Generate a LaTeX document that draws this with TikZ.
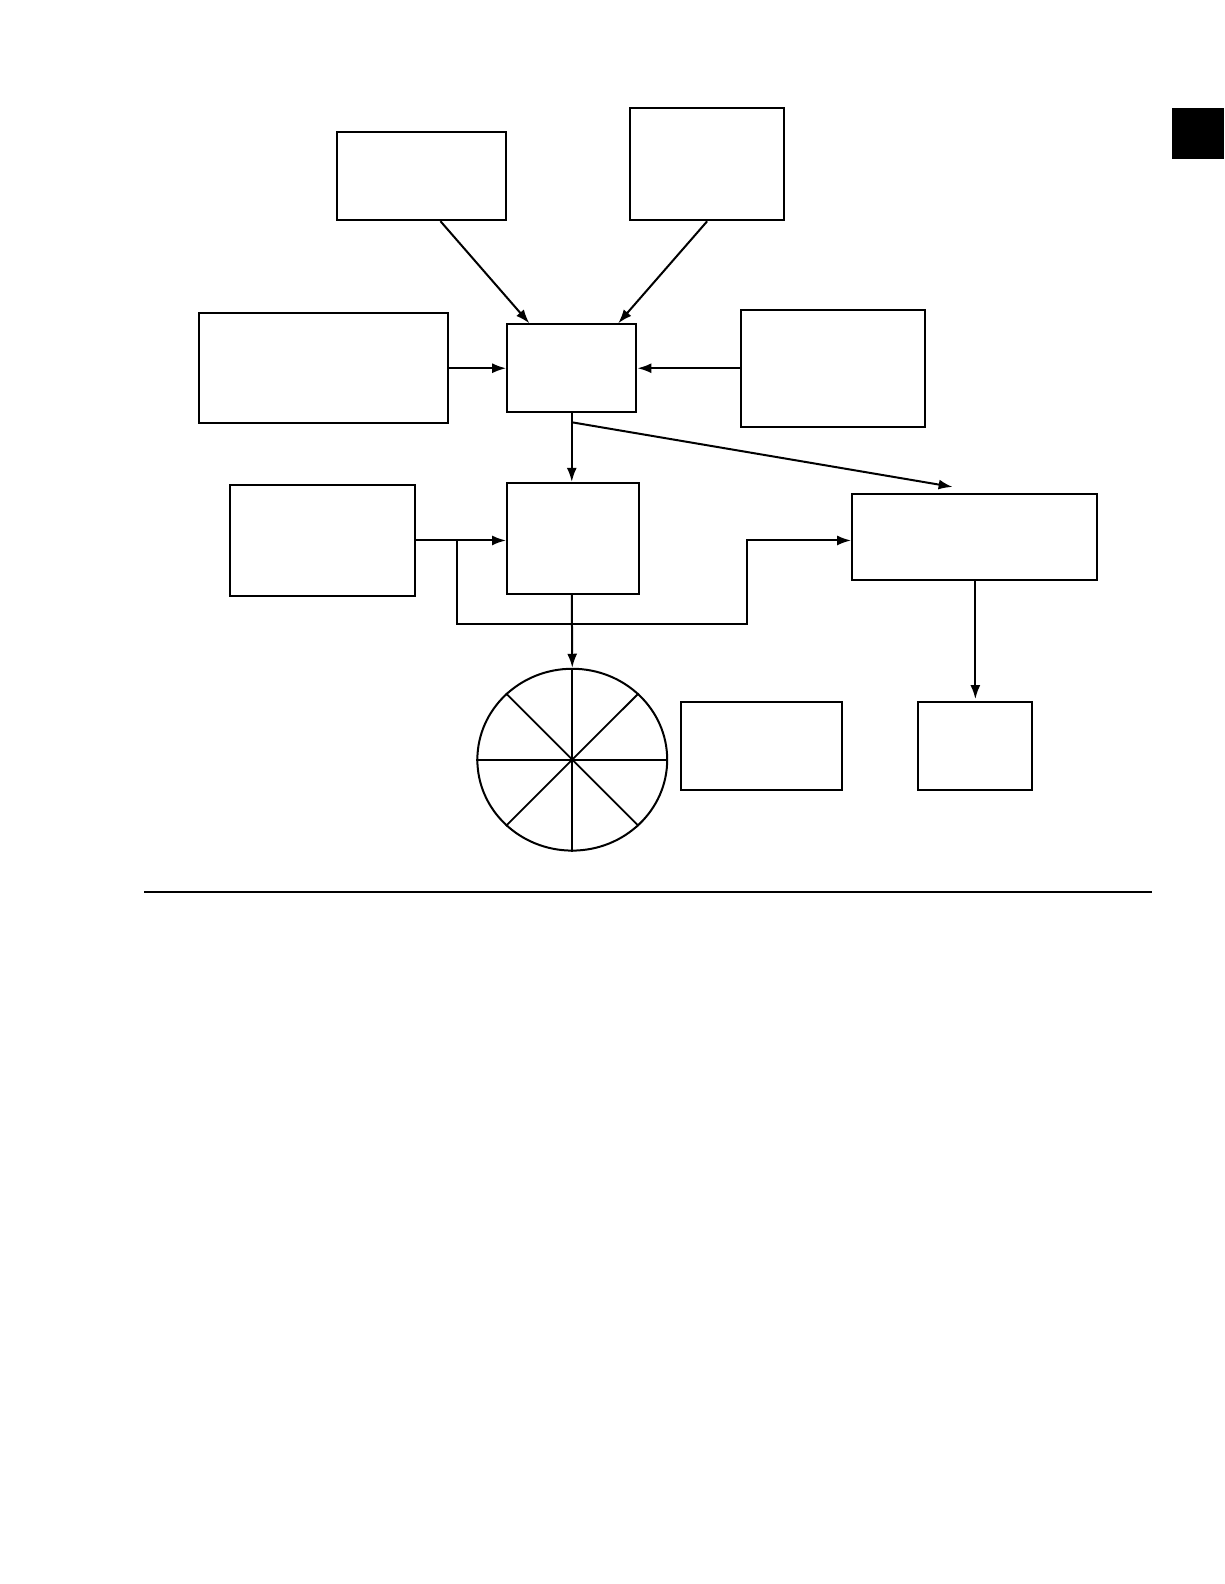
\documentclass[tikz,border=0pt]{standalone}
\usepackage{tikz}
\usetikzlibrary{calc, positioning, shapes.geometric, arrows.meta}

\begin{document}
\begin{tikzpicture}[x=0.505pt,y=-0.505pt,line width=1pt,
                    >={Latex[length=7pt,width=5pt]},
                    box node/.style={rectangle,draw,inner sep=0pt},
                    wheel node/.style={ellipse,draw,inner sep=0pt}]
\useasboundingbox (0,0) rectangle (1212,1568);

\node[box node,minimum width=84.3pt,minimum height=43.9pt] (TopL) at (417.5,174.5) {};
\node[box node,minimum width=76.8pt,minimum height=56.1pt] (TopR) at (700,162.5) {};
\node[box node,minimum width=124.7pt,minimum height=55pt] (MidL) at (320.5,364.5) {};
\node[box node,minimum width=64.6pt,minimum height=43.9pt] (Hub) at (566,364.5) {};
\node[box node,minimum width=92.4pt,minimum height=58.6pt] (MidR) at (824.5,364.5) {};
\node[box node,minimum width=92.4pt,minimum height=55.6pt] (LowL) at (319.5,535) {};
\node[box node,minimum width=65.7pt,minimum height=55.6pt] (LowC) at (567,533) {};
\node[box node,minimum width=122.2pt,minimum height=43.4pt] (LowR) at (964.5,531.5) {};
\node[wheel node,minimum width=94.9pt,minimum height=90.9pt] (Wheel) at (566.5,752) {};
\node[box node,minimum width=80.3pt,minimum height=43.9pt] (BotC) at (753.5,738.5) {};
\node[box node,minimum width=57.1pt,minimum height=43.9pt] (BotR) at (965.5,738.5) {};

\coordinate (Split) at (566,418);
\coordinate (SplitTip) at (943,482);
\coordinate (Fork) at (452,535);
\coordinate (Bend) at (739,618);

\draw[->] ($(TopL.south)+(18.5,0)$) -- ($(Hub.north)+(-42,0)$);
\draw[->] (TopR.south) -- ($(Hub.north)+(46,0)$);
\draw[->] (MidL.east) -- (Hub.west);
\draw[->] (MidR.west) -- (Hub.east);
\draw[->] (Hub.south) -- (Hub.south |- LowC.north);
\draw[->] (Split) -- (SplitTip);
\draw[->] (LowL.east) -- (LowL.east -| LowC.west);
\draw[->] (Fork) |- (Bend) |- (LowR.west |- Fork);
\draw[->] (Hub.south |- LowC.south) -- (Wheel.north);
\draw[->] (BotR.north |- LowR.south) -- ($(BotR.north)+(0,-2)$);

\foreach \a in {0,45,...,315}
  {\draw[line width=0.9pt] (Wheel.center) -- (Wheel.\a);}

\coordinate (RuleL) at (143,883);
\coordinate (RuleR) at (1140,883);
\draw (RuleL) -- (RuleR);

\fill (1160,107) rectangle (1212,157);

\end{tikzpicture}
\end{document}
